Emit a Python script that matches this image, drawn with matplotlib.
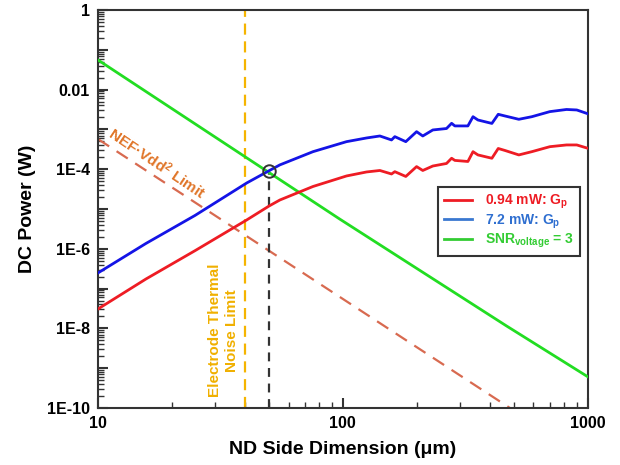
import matplotlib
matplotlib.use("Agg")
import matplotlib.pyplot as plt
from matplotlib.ticker import LogLocator, FixedLocator, FuncFormatter, NullFormatter
from matplotlib.lines import Line2D

plt.rcParams['font.family'] = ['Liberation Sans', 'DejaVu Sans']
plt.rcParams['font.weight'] = 'bold'
plt.rcParams['mathtext.fontset'] = 'custom'
plt.rcParams['mathtext.rm'] = 'Liberation Sans:bold'
plt.rcParams['mathtext.it'] = 'Liberation Sans:bold'
plt.rcParams['mathtext.bf'] = 'Liberation Sans:bold'

# ---- data ----
size_gp = [10.0, 15.7, 24.9, 40.5, 50.0, 55.3, 75.5, 103.5, 125, 141.6, 158, 163, 180.7,
           200, 212, 233, 265, 278, 286.6, 324, 340, 356, 406, 431, 459, 523, 591, 700,
           819, 902, 1000]
power_72mw = [2.47e-7, 1.36e-6, 6.87e-6, 4.50e-5, 9.16e-5, 1.28e-4, 2.75e-4, 4.91e-4,
              6.08e-4, 6.82e-4, 5.42e-4, 6.56e-4, 4.91e-4, 8.75e-4, 6.82e-4, 9.66e-4,
              1.05e-3, 1.42e-3, 1.22e-3, 1.22e-3, 2.08e-3, 1.72e-3, 1.41e-3, 2.39e-3,
              2.17e-3, 1.79e-3, 2.08e-3, 2.79e-3, 3.16e-3, 3.07e-3, 2.47e-3]
power_094mw = [3.07e-8, 1.74e-7, 8.95e-7, 5.30e-6, 1.19e-5, 1.68e-5, 3.67e-5, 6.75e-5,
               8.51e-5, 9.27e-5, 7.57e-5, 8.65e-5, 6.56e-5, 1.16e-4, 9.27e-5, 1.20e-4,
               1.39e-4, 1.88e-4, 1.66e-4, 1.56e-4, 2.75e-4, 2.28e-4, 1.88e-4, 3.31e-4,
               2.95e-4, 2.28e-4, 2.75e-4, 3.67e-4, 4.06e-4, 4.06e-4, 3.35e-4]
size_snr = [10, 97, 466, 1000]
power_snr = [5.54e-2, 5.6e-6, 1.15e-8, 6.1e-10]
size_nef = [10, 481]
power_nef = [5.7e-4, 1.0e-10]
electrode_limit = 40.0
crossing_size = 50.0
crossing_power = 9.16e-5
x_ticks = [10, 100, 1000]
y_labelled = {1: "1", 1e-2: "0.01", 1e-4: "1E-4", 1e-6: "1E-6", 1e-8: "1E-8", 1e-10: "1E-10"}

# ---- figure ----
fig = plt.figure(figsize=(6.2, 4.65), dpi=100)
ax = fig.add_axes([0.158, 0.1226, 0.79, 0.856])
ax.set_xscale('log')
ax.set_yscale('log')
ax.set_xlim(10, 1000)
ax.set_ylim(1e-10, 1)

ax.plot(size_snr, power_snr, color='#22dd22', lw=2, zorder=3)
ax.plot(size_gp, power_72mw, color='#1414e6', lw=2, zorder=4)
ax.plot(size_gp, power_094mw, color='#ee1c24', lw=2, zorder=4)
ax.plot(size_nef, power_nef, color='#d86a50', lw=1.6, dashes=(6, 4), zorder=2)
ax.axvline(electrode_limit, color='#f5b400', lw=1.6, dashes=(5, 3), zorder=2)
ax.plot([crossing_size, crossing_size], [1e-10, crossing_power], color='#333333',
        lw=1.6, dashes=(4, 3), zorder=2)
ax.plot([crossing_size], [crossing_power], marker='o', ms=9, mfc='none', mec='#333333',
        mew=1.4, zorder=5)

ax.text(17.4, 1.44e-4, "NEF·Vdd$^2$ Limit", color='#e0762a', fontsize=11, fontweight='bold',
        rotation=-34, ha='center', va='center', rotation_mode='anchor')
ax.text(32.5, 9e-9, "Electrode Thermal\nNoise Limit", color='#f0b000', fontsize=11,
        fontweight='bold', rotation=90, ha='center', va='center', linespacing=1.25)

# ---- axes styling ----
for s in ax.spines.values():
    s.set_color('#333333')
    s.set_linewidth(1.5)
ax.xaxis.set_major_locator(FixedLocator(x_ticks))
ax.xaxis.set_minor_locator(LogLocator(base=10, subs=range(2, 10)))
ax.xaxis.set_major_formatter(FuncFormatter(lambda v, p: f"{v:g}"))
ax.xaxis.set_minor_formatter(NullFormatter())
ax.yaxis.set_major_locator(LogLocator(base=10, numticks=20))
ax.yaxis.set_minor_locator(LogLocator(base=10, subs=range(2, 10), numticks=20))


def yfmt(v, p):
    for k, lab in y_labelled.items():
        if abs(v / k - 1) < 1e-6:
            return lab
    return ""


ax.yaxis.set_major_formatter(FuncFormatter(yfmt))
ax.yaxis.set_minor_formatter(NullFormatter())
ax.tick_params(which='both', direction='in', top=False, right=False, color='#333333')
ax.tick_params(which='major', length=7, width=1.5, labelsize=11.5, pad=6)
ax.tick_params(which='minor', length=4, width=1.0)
for lab in ax.get_xticklabels() + ax.get_yticklabels():
    lab.set_fontweight('bold')

ax.set_xlabel("ND Side Dimension (μm)", fontsize=14, fontweight='bold', labelpad=7)
ax.set_ylabel("DC Power (W)", fontsize=14, fontweight='bold', labelpad=8)

handles = [Line2D([], [], color='#ee1c24', lw=2),
           Line2D([], [], color='#3a78d0', lw=2),
           Line2D([], [], color='#33cc33', lw=2)]
labels = ["0.94 mW: G$_p$", "7.2 mW: G$_p$", "SNR$_{voltage}$ = 3"]
leg = ax.legend(handles, labels, loc='upper right', bbox_to_anchor=(0.984, 0.555),
                borderaxespad=0, fancybox=False, edgecolor='#333333', framealpha=1,
                fontsize=10, labelspacing=0.1, handlelength=2.0, handletextpad=1.0,
                borderpad=0.4)
leg.get_frame().set_linewidth(1.5)
for t, c in zip(leg.get_texts(), ['#ee1c24', '#2f6fd0', '#33cc33']):
    t.set_color(c)
    t.set_fontweight('bold')

fig.savefig("out.png", dpi=100)
